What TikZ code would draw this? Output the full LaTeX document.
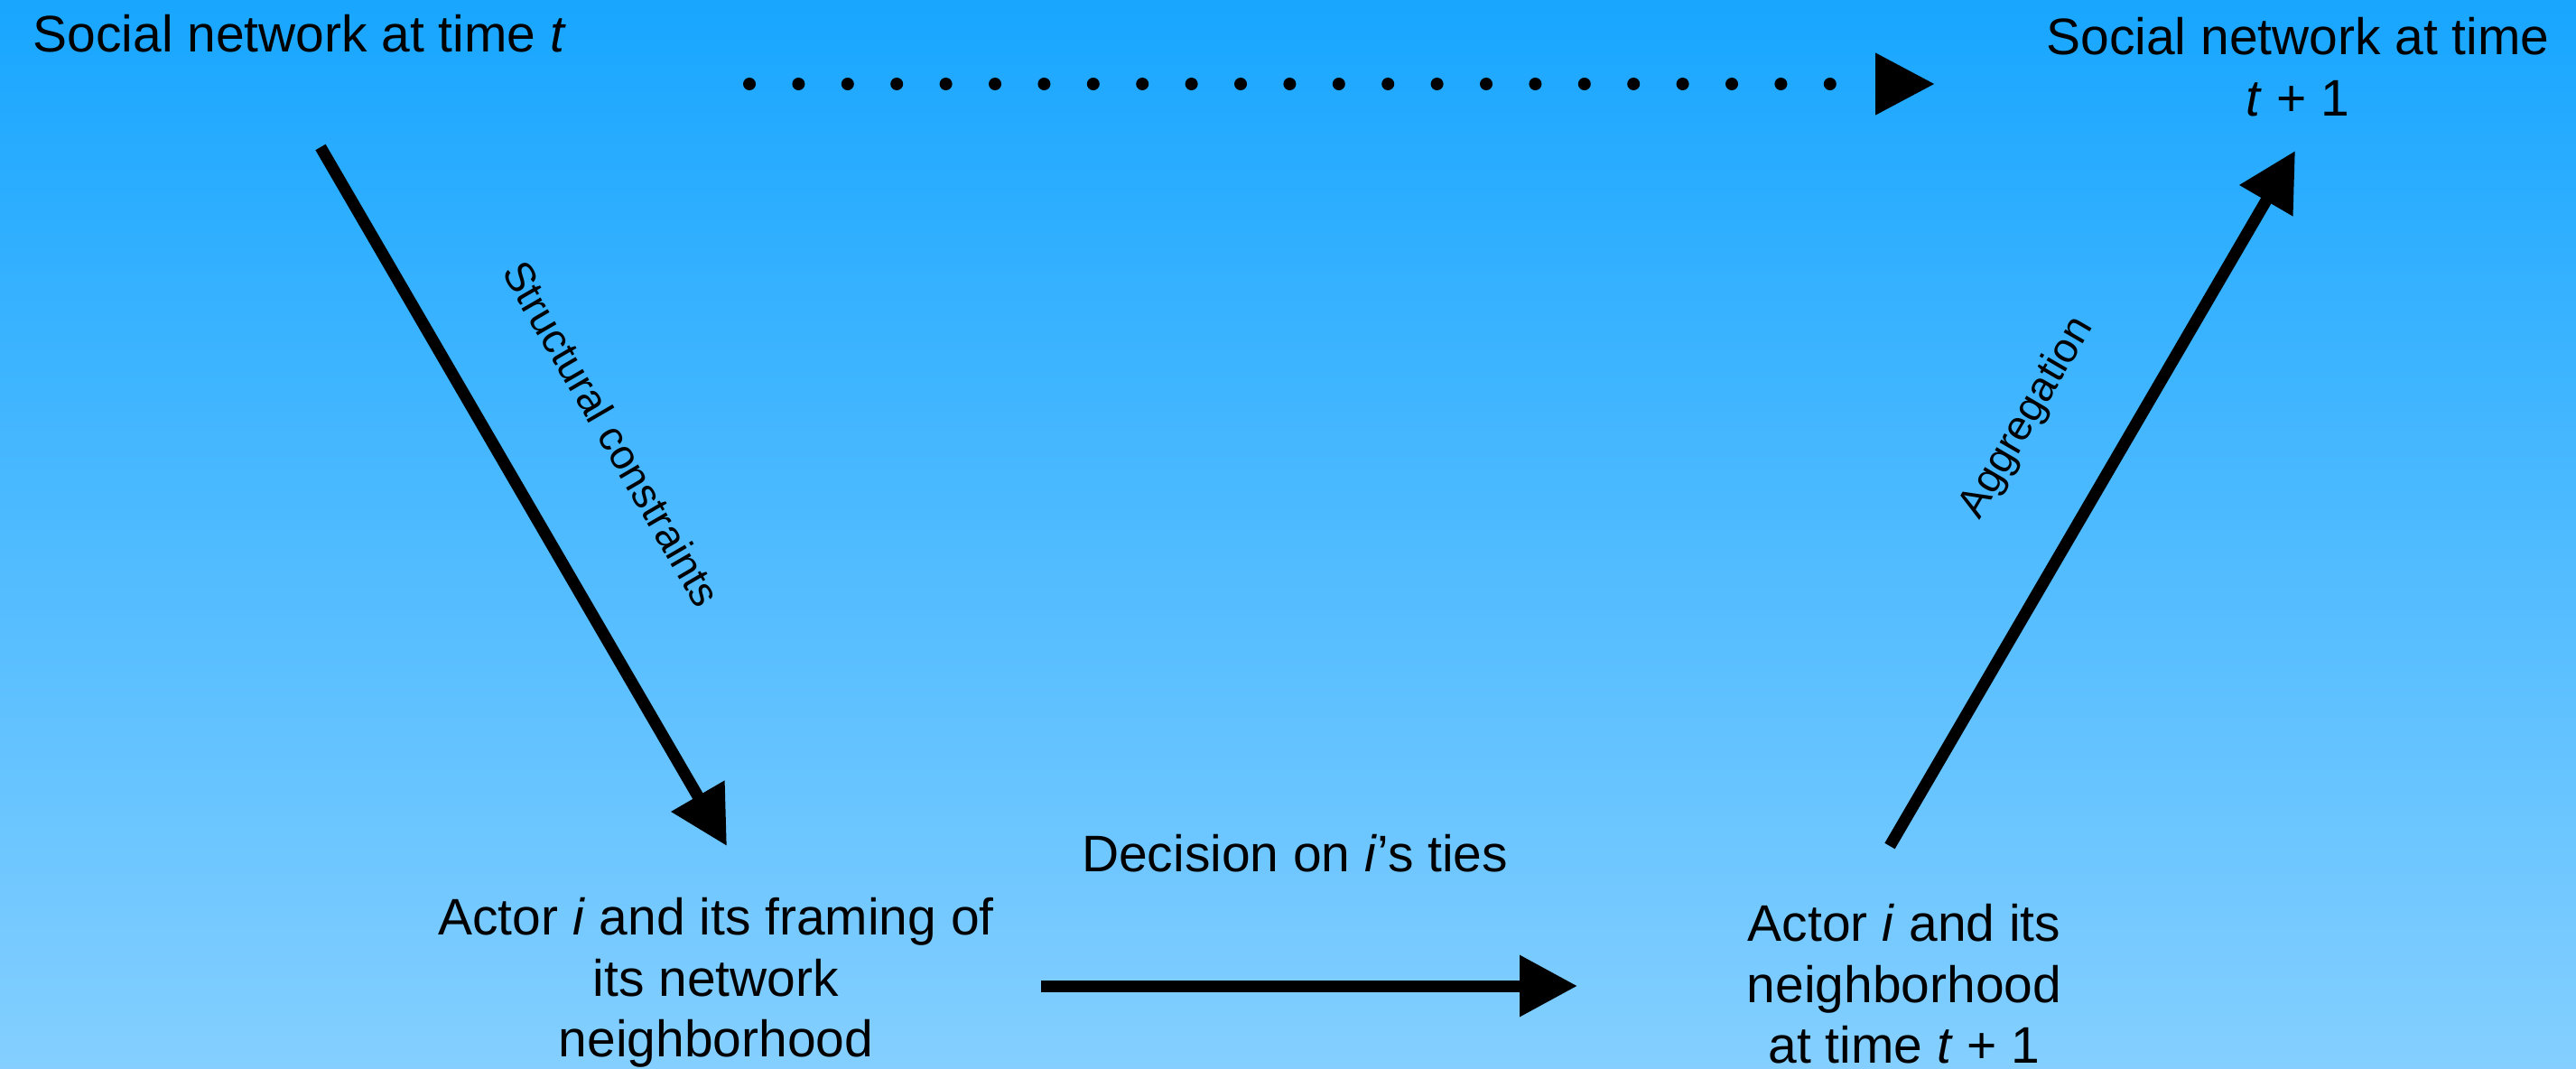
\documentclass[tikz,border=0pt]{standalone}
\usepackage{fontspec}
\setmainfont{Liberation Sans}
\usetikzlibrary{arrows.meta}
\definecolor{skytop}{RGB}{24,166,255}
\definecolor{skybottom}{RGB}{132,207,255}
\begin{document}
\begin{tikzpicture}[x=1cm,y=1cm,
  lbl/.style={inner sep=0pt, text=black, font=\fontsize{16.2}{19.1}\selectfont, align=center},
  side/.style={inner sep=0pt, text=black, font=\fontsize{13.1}{15.7}\selectfont},
  flow/.style={line width=1.3mm, -{Triangle[length=6.4mm,width=6.5mm]}},
  dotflow/.style={line width=1.4mm, line cap=round, dash pattern=on 0pt off 5.44mm,
                  -{Triangle[length=6.6mm,width=6.5mm]}}]
% sky-blue background
\shade[top color=skytop, bottom color=skybottom] (0,0) rectangle (28.53,-11.84);
\useasboundingbox (0,0) rectangle (28.53,-11.84);

% states of the process
\node[lbl, anchor=base west] (net0) at (0.36,-0.58) {Social network at time \textit{t}};
\node[lbl, anchor=north] (net1) at (25.45,-0.19) {Social network at time\\\textit{t} + 1};
\node[lbl, anchor=north] (frame) at (7.93,-9.94) {Actor \textit{i} and its framing of\\its network\\neighborhood};
\node[lbl, anchor=north] (nbhd) at (21.09,-10.01) {Actor \textit{i} and its\\neighborhood\\at time \textit{t} + 1};

% arrow end points
\coordinate (a0s) at (8.30,-0.93);
\coordinate (a0e) at (21.43,-0.93);
\coordinate (a1s) at (3.55,-1.63);
\coordinate (a1e) at (8.05,-9.37);
\coordinate (a2s) at (20.93,-9.37);
\coordinate (a2e) at (25.42,-1.67);
\coordinate (a3s) at (11.53,-10.92);
\coordinate (a3e) at (17.47,-10.92);

% transitions
\draw[dotflow] (a0s) -- (a0e);
\draw[flow] (a1s) -- (a1e);
\draw[flow] (a2s) -- (a2e);
\draw[flow] (a3s) -- (a3e);

% transition labels
\node[side, rotate=-59.8] (struct) at (6.78,-4.80) {Structural constraints};
\node[side, rotate=59.7] (aggr) at (22.45,-4.63) {Aggregation};
\node[lbl, anchor=base] (decide) at (14.34,-9.65) {Decision on \textit{i}'s ties};
\end{tikzpicture}
\end{document}
